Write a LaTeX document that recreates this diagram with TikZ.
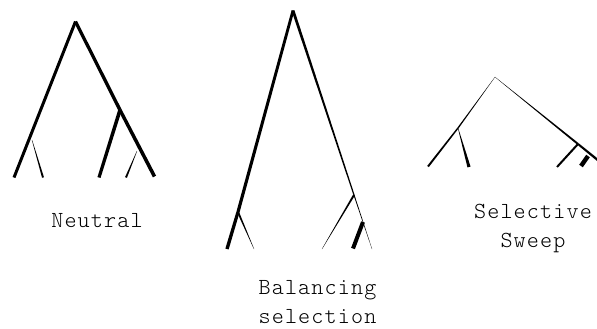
\documentclass[tikz,border=0pt]{standalone}
\usepackage{fontspec}
\newfontfamily\cour[LetterSpace=5]{lmmonolt10-regular.otf}
\usetikzlibrary{calc}
\newcommand\taper[4]{\fill ($(#1)!#3!90:(#2)$) -- ($(#2)!#4!-90:(#1)$) -- ($(#2)!#4!90:(#1)$) -- ($(#1)!#3!-90:(#2)$) -- cycle;}
\tikzset{lbl/.style={font=\cour\fontsize{23bp}{26bp}\selectfont, anchor=base, inner sep=0pt}}
\begin{document}
\begin{tikzpicture}[x=1bp,y=-1bp]
\useasboundingbox (0,0) rectangle (597,328);
\clip (0,0) rectangle (597,328);
% Neutral
\coordinate (n0) at (75.5,21.5);
\coordinate (nL) at (14,177.5);
\coordinate (nR) at (154.5,176.5);
\coordinate (nI) at (120,110);
\coordinate (nIL) at (99,177.5);
\coordinate (nA) at (32,140);
\coordinate (nAb) at (43,177.5);
\coordinate (nB) at (137,151);
\coordinate (nBb) at (126,177.5);
\taper{n0}{nL}{1.5bp}{1.5bp}
\taper{n0}{nI}{1.6bp}{1.7bp}
\taper{nI}{nR}{1.7bp}{1.8bp}
\taper{nI}{nIL}{1.8bp}{1.6bp}
\taper{nA}{nAb}{0.15bp}{1.0bp}
\taper{nB}{nBb}{0.15bp}{1.0bp}
% Balancing
\coordinate (b0) at (293,10.5);
\coordinate (bL) at (227,249);
\coordinate (bI) at (238,212);
\coordinate (bIR) at (254,249);
\coordinate (bR) at (372,249);
\coordinate (bJ) at (354,195);
\coordinate (bJL) at (322,249);
\coordinate (bK) at (363,222);
\coordinate (bKb) at (353,248.5);
\taper{b0}{bI}{1.4bp}{1.6bp}
\taper{bI}{bL}{1.6bp}{1.7bp}
\taper{bI}{bIR}{1.0bp}{0.12bp}
\taper{b0}{bJ}{1.4bp}{0.6bp}
\taper{bJ}{bR}{0.5bp}{0.1bp}
\taper{bJ}{bJL}{1.0bp}{0.1bp}
\taper{bK}{bKb}{2.0bp}{2.0bp}
% Sweep
\coordinate (s0) at (495,77);
\coordinate (sL) at (428,166.5);
\coordinate (sI) at (458,128);
\coordinate (sIb) at (469,167);
\coordinate (sJ) at (578,144);
\coordinate (sR) at (602,163.5);
\coordinate (sJL) at (557,167);
\coordinate (sK) at (588,156);
\coordinate (sKb) at (581,166);
\taper{s0}{sI}{0.1bp}{0.7bp}
\taper{sI}{sL}{0.7bp}{1.0bp}
\taper{sI}{sIb}{0.15bp}{1.6bp}
\taper{s0}{sJ}{0.1bp}{1.0bp}
\taper{sJ}{sR}{1.0bp}{1.2bp}
\taper{sJ}{sJL}{1.0bp}{1.0bp}
\taper{sK}{sKb}{2.2bp}{2.2bp}
% Labels
\node[lbl] (tn) at (97,227) {Neutral};
\node[lbl] (tb1) at (317.5,294) {Balancing};
\node[lbl] (tb2) at (317.5,323.5) {selection};
\node[lbl] (ts1) at (533,218) {Selective};
\node[lbl] (ts2) at (533,247) {Sweep};
\end{tikzpicture}
\end{document}
